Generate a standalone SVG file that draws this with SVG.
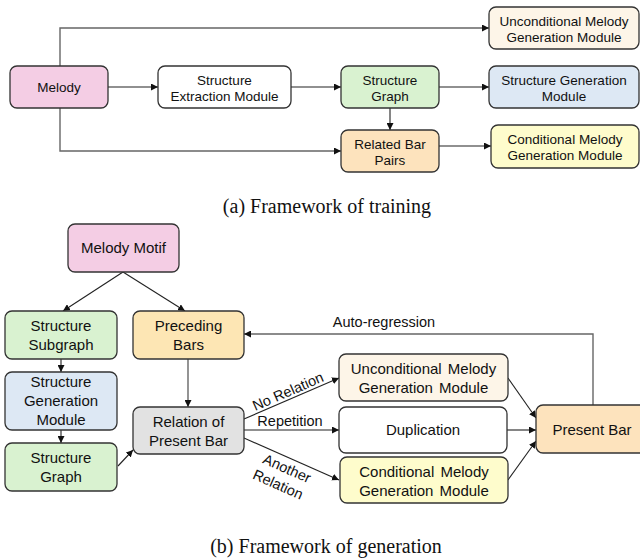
<svg xmlns="http://www.w3.org/2000/svg" width="640" height="558" viewBox="0 0 640 558">
<defs>
<marker id="ah" viewBox="0 0 10 10" refX="10" refY="5" markerWidth="7" markerHeight="7" markerUnits="userSpaceOnUse" orient="auto">
<path d="M0,0 L10,5 L0,10 z" fill="#111"/>
</marker>
<style>
.n{stroke:#333;stroke-width:1.3}
.t{font-family:"Liberation Sans",Arial,sans-serif;font-size:13.5px;fill:#111;text-anchor:middle}
.b{font-family:"Liberation Sans",Arial,sans-serif;font-size:15px;fill:#111;text-anchor:middle}
.l{font-family:"Liberation Sans",Arial,sans-serif;font-size:14.5px;fill:#111;text-anchor:middle}
.cap{font-family:"Liberation Serif","Times New Roman",serif;font-size:20px;fill:#111;text-anchor:middle}
.c{fill:none;stroke:#222;stroke-width:1.1;marker-end:url(#ah)}
.g{fill:none;stroke:#666;stroke-width:1.4;marker-end:url(#ah)}
</style>
</defs>
<rect width="640" height="558" fill="#fff"/>

<!-- connectors -->
<g id="connectors">
<path class="c" d="M108,87 H158"/>
<path class="c" d="M291,87 H341"/>
<path class="c" d="M439,87 H489"/>
<path class="g" d="M60,66 V28 H489"/>
<path class="g" d="M60,108 V151 H341"/>
<path class="c" d="M390,108 V130"/>
<path class="c" d="M439,146 H491"/>

<path class="c" d="M123,272 L63,311"/>
<path class="c" d="M123,272 L185,311"/>
<path class="c" d="M61,359 V372"/>
<path class="c" d="M61,430 V443"/>
<path class="c" d="M118,466 L133,450"/>
<path class="g" d="M188,359 V407"/>
<path class="c" d="M244,419 L339,378"/>
<path class="c" d="M244,430 H339"/>
<path class="c" d="M244,438 L339,480"/>
<path class="c" d="M508,378 L536,418"/>
<path class="c" d="M507,430 H536"/>
<path class="c" d="M508,480 L536,441"/>
<path class="g" d="M593,405 V334 H244"/>
<text class="l" x="384" y="327">Auto-regression</text>
<text class="l" x="290" y="396" transform="rotate(-23.5 290 396)">No Relation</text>
<text class="l" x="290" y="426">Repetition</text>
<text class="l" x="285" y="473" transform="rotate(24 285 473)">Another</text>
<text class="l" x="276" y="489" transform="rotate(24 276 489)">Relation</text>
</g>

<!-- (a) training -->
<g id="melody"><rect class="n" x="10" y="66" width="98" height="42" rx="7" fill="#f4cde4"/><text class="t" x="59" y="92">Melody</text></g>
<g id="extract"><rect class="n" x="158" y="66" width="133" height="42" rx="7" fill="#fff"/><text class="t" x="224.5" y="84.5">Structure</text><text class="t" x="224.5" y="100.5">Extraction Module</text></g>
<g id="sgraph"><rect class="n" x="341" y="66" width="98" height="42" rx="7" fill="#d9f2d0"/><text class="t" x="390" y="84.5">Structure</text><text class="t" x="390" y="100.5">Graph</text></g>
<g id="sgen"><rect class="n" x="489" y="66" width="150" height="42" rx="7" fill="#dde8f4"/><text class="t" x="564" y="84.5">Structure Generation</text><text class="t" x="564" y="100.5">Module</text></g>
<g id="uncond"><rect class="n" x="489" y="7" width="150" height="42" rx="7" fill="#fdf5e8"/><text class="t" x="564" y="25.5">Unconditional Melody</text><text class="t" x="564" y="41.5">Generation Module</text></g>
<g id="pairs"><rect class="n" x="341" y="130" width="98" height="42" rx="7" fill="#fde3bd"/><text class="t" x="390" y="148.5">Related Bar</text><text class="t" x="390" y="164.5">Pairs</text></g>
<g id="cond"><rect class="n" x="491" y="125" width="148" height="43" rx="7" fill="#fefccc"/><text class="t" x="565" y="143.5">Conditional Melody</text><text class="t" x="565" y="159.5">Generation Module</text></g>
<text class="cap" x="327" y="213">(a) Framework of training</text>

<!-- (b) generation -->
<g id="motif"><rect class="n" x="68" y="224" width="111" height="48" rx="7" fill="#f4cde4"/><text class="b" x="123.5" y="253">Melody Motif</text></g>
<g id="subgraph"><rect class="n" x="5" y="311" width="112" height="48" rx="7" fill="#d9f2d0"/><text class="b" x="61" y="331">Structure</text><text class="b" x="61" y="350">Subgraph</text></g>
<g id="preceding"><rect class="n" x="133" y="311" width="111" height="48" rx="7" fill="#fde6b4"/><text class="b" x="188.5" y="331">Preceding</text><text class="b" x="188.5" y="350">Bars</text></g>
<g id="sgen2"><rect class="n" x="5" y="372" width="112" height="58" rx="7" fill="#dde8f4"/><text class="b" x="61" y="387">Structure</text><text class="b" x="61" y="406">Generation</text><text class="b" x="61" y="425">Module</text></g>
<g id="sgraph2"><rect class="n" x="5" y="443" width="112" height="48" rx="7" fill="#d9f2d0"/><text class="b" x="61" y="463">Structure</text><text class="b" x="61" y="482">Graph</text></g>
<g id="relation"><rect class="n" x="133" y="407" width="111" height="47" rx="7" fill="#e2e2e2"/><text class="b" x="188.5" y="427">Relation of</text><text class="b" x="188.5" y="446">Present Bar</text></g>
<g id="uncond2"><rect class="n" x="339" y="354" width="169" height="47" rx="7" fill="#fdf5e8"/><text class="b" x="423.5" y="374" word-spacing="2">Unconditional Melody</text><text class="b" x="423.5" y="393" word-spacing="2">Generation Module</text></g>
<g id="dup"><rect class="n" x="339" y="407" width="168" height="46" rx="7" fill="#fff"/><text class="b" x="423" y="435">Duplication</text></g>
<g id="cond2"><rect class="n" x="340" y="457" width="168" height="46" rx="7" fill="#fefccc"/><text class="b" x="424" y="477" word-spacing="2">Conditional Melody</text><text class="b" x="424" y="496" word-spacing="2">Generation Module</text></g>
<g id="present"><rect class="n" x="536" y="405" width="112" height="48" rx="7" fill="#fde3bd"/><text class="b" x="592" y="435">Present Bar</text></g>
<text class="cap" x="326" y="553">(b) Framework of generation</text>
</svg>
